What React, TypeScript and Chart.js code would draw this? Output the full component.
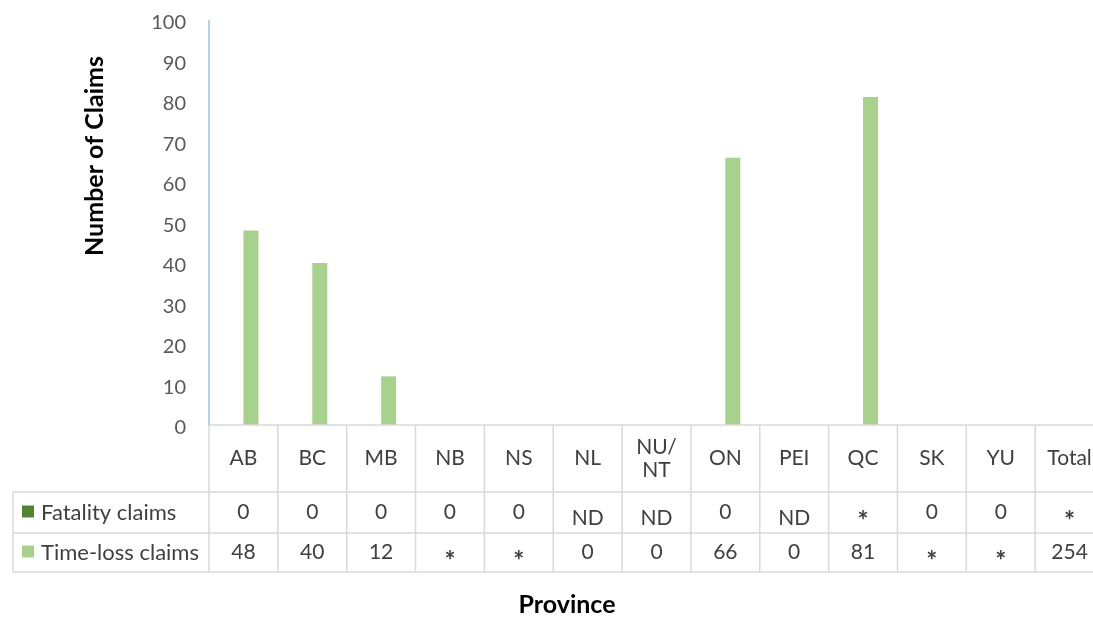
import { useEffect, useRef } from 'react';
import { Chart, registerables } from 'chart.js';

Chart.register(...registerables);

// ---- data ----
const categories = ['AB', 'BC', 'MB', 'NB', 'NS', 'NL', 'NU/NT', 'ON', 'PEI', 'QC', 'SK', 'YU', 'Total'];
const categoryLabels: string[][] = [['AB'], ['BC'], ['MB'], ['NB'], ['NS'], ['NL'], ['NU/', 'NT'], ['ON'], ['PEI'], ['QC'], ['SK'], ['YU'], ['Total']];
const fatalityClaims: (number | null)[] = [0, 0, 0, 0, 0, null, null, 0, null, null, 0, 0, null];
const timeLossClaims: (number | null)[] = [48, 40, 12, null, null, 0, 0, 66, 0, 81, null, null, null];
const fatalityTable = ['0', '0', '0', '0', '0', 'ND', 'ND', '0', 'ND', '*', '0', '0', '*'];
const timeLossTable = ['48', '40', '12', '*', '*', '0', '0', '66', '0', '81', '*', '*', '254'];
const seriesNames = ['Fatality claims', 'Time-loss claims'];
const yTicks = [0, 10, 20, 30, 40, 50, 60, 70, 80, 90, 100];

const FATAL_COLOR = '#548235';
const TIME_COLOR = '#a9d18e';
const GRID = '#d9d9d9';
const FONT = 'Lato';

const CANVAS_W = 1110;
const CANVAS_H = 617;
const PLOT_LEFT = 209;
const PLOT_RIGHT = 1104;
const PLOT_TOP = 20;
const PLOT_BOTTOM = 425;
const HEADER_BOTTOM = 492;
const ROW1_BOTTOM = 533;
const ROW2_BOTTOM = 572;
const TABLE_LEFT = 13;

const tablePlugin = {
  id: 'dataTable',
  afterDraw(chart: any) {
    const ctx = chart.ctx as CanvasRenderingContext2D;
    const x = chart.scales.x;
    const n = categories.length;
    const colW = x.getPixelForValue(1) - x.getPixelForValue(0);
    const left = x.getPixelForValue(0) - colW / 2;
    const right = x.getPixelForValue(n - 1) + colW / 2;
    ctx.save();
    // grid lines
    ctx.strokeStyle = GRID;
    ctx.lineWidth = 1.5;
    ctx.beginPath();
    ctx.moveTo(left, PLOT_BOTTOM);
    ctx.lineTo(right, PLOT_BOTTOM);
    for (const yy of [HEADER_BOTTOM, ROW1_BOTTOM, ROW2_BOTTOM]) {
      ctx.moveTo(TABLE_LEFT, yy);
      ctx.lineTo(right, yy);
    }
    ctx.moveTo(TABLE_LEFT, HEADER_BOTTOM);
    ctx.lineTo(TABLE_LEFT, ROW2_BOTTOM);
    for (let i = 1; i <= n; i++) {
      const xx = left + i * colW;
      ctx.moveTo(xx, PLOT_BOTTOM);
      ctx.lineTo(xx, ROW2_BOTTOM);
    }
    ctx.moveTo(left, PLOT_BOTTOM);
    ctx.lineTo(left, ROW2_BOTTOM);
    ctx.stroke();

    // y axis line (light blue)
    ctx.strokeStyle = '#9dc3e6';
    ctx.lineWidth = 1.5;
    ctx.beginPath();
    ctx.moveTo(left, chart.chartArea.top);
    ctx.lineTo(left, PLOT_BOTTOM);
    ctx.stroke();

    // header labels
    ctx.fillStyle = '#404040';
    ctx.font = `21px ${FONT}`;
    ctx.textAlign = 'center';
    ctx.textBaseline = 'middle';
    const hc = (PLOT_BOTTOM + HEADER_BOTTOM) / 2;
    categoryLabels.forEach((lines, i) => {
      const cx = x.getPixelForValue(i);
      const lh = 23;
      lines.forEach((t, j) => {
        ctx.fillText(t, cx, hc + (j - (lines.length - 1) / 2) * lh);
      });
    });
    const r1 = (HEADER_BOTTOM + ROW1_BOTTOM) / 2;
    const r2 = (ROW1_BOTTOM + ROW2_BOTTOM) / 2;
    const drawCell = (t: string, cx: number, cy: number) => {
      if (t === '*') {
        ctx.font = `bold 26px ${FONT}`;
        ctx.fillText(t, cx, cy + 9);
        ctx.font = `21px ${FONT}`;
      } else if (t === 'ND') ctx.fillText(t, cx, cy + 6);
      else ctx.fillText(t, cx, cy);
    };
    fatalityTable.forEach((t, i) => drawCell(t, x.getPixelForValue(i), r1));
    timeLossTable.forEach((t, i) => drawCell(t, x.getPixelForValue(i), r2));

    // legend keys + names
    ctx.fillStyle = FATAL_COLOR;
    ctx.fillRect(22, r1 - 7, 12, 12);
    ctx.fillStyle = TIME_COLOR;
    ctx.fillRect(22, r2 - 7, 12, 12);
    ctx.fillStyle = '#404040';
    ctx.textAlign = 'left';
    ctx.font = `22px ${FONT}`;
    ctx.fillText(seriesNames[0], 41, r1);
    ctx.fillText(seriesNames[1], 41, r2);

    // axis titles
    ctx.fillStyle = '#000000';
    ctx.font = `bold 25px ${FONT}`;
    ctx.textAlign = 'center';
    ctx.fillText('Province', 567, 605);
    ctx.translate(95, 156);
    ctx.rotate(-Math.PI / 2);
    ctx.fillText('Number of Claims', 0, 0);
    ctx.restore();
  },
};

export default function App() {
  const ref = useRef<HTMLCanvasElement | null>(null);
  useEffect(() => {
    if (!ref.current) return;
    const chart = new Chart(ref.current, {
      type: 'bar',
      data: {
        labels: categories,
        datasets: [
          {
            label: seriesNames[0],
            data: fatalityClaims,
            backgroundColor: FATAL_COLOR,
            barPercentage: 1,
            categoryPercentage: 30 / 68.8,
          },
          {
            label: seriesNames[1],
            data: timeLossClaims,
            backgroundColor: TIME_COLOR,
            barPercentage: 1,
            categoryPercentage: 30 / 68.8,
          },
        ],
      },
      options: {
        animation: false,
        responsive: false,
        maintainAspectRatio: false,
        layout: {
          padding: {
            left: 0,
            top: PLOT_TOP,
            right: CANVAS_W - PLOT_RIGHT,
            bottom: CANVAS_H - PLOT_BOTTOM,
          },
        },
        plugins: {
          legend: { display: false },
          tooltip: { enabled: false },
          title: { display: false },
        },
        scales: {
          x: {
            display: false,
            offset: true,
            grid: { display: false },
          },
          y: {
            min: 0,
            max: 100,
            afterFit: (scale: any) => {
              scale.width = PLOT_LEFT;
              scale.paddingTop = 0;
              scale.paddingBottom = 0;
            },
            afterBuildTicks: (scale: any) => {
              scale.ticks = yTicks.map((v) => ({ value: v }));
            },
            grid: { display: false, drawTicks: false },
            border: { display: false },
            ticks: {
              padding: 23,
              labelOffset: 3,
              color: '#595959',
              font: { family: FONT, size: 20 },
            },
          },
        },
      },
      plugins: [tablePlugin],
    });
    return () => chart.destroy();
  }, []);
  return (
    <div
      style={{
        position: 'fixed',
        left: 0,
        top: 0,
        width: 1093,
        height: 617,
        overflow: 'hidden',
        background: '#ffffff',
      }}
    >
      <canvas ref={ref} width={CANVAS_W} height={CANVAS_H} style={{ width: CANVAS_W, height: CANVAS_H, display: 'block' }} />
    </div>
  );
}
